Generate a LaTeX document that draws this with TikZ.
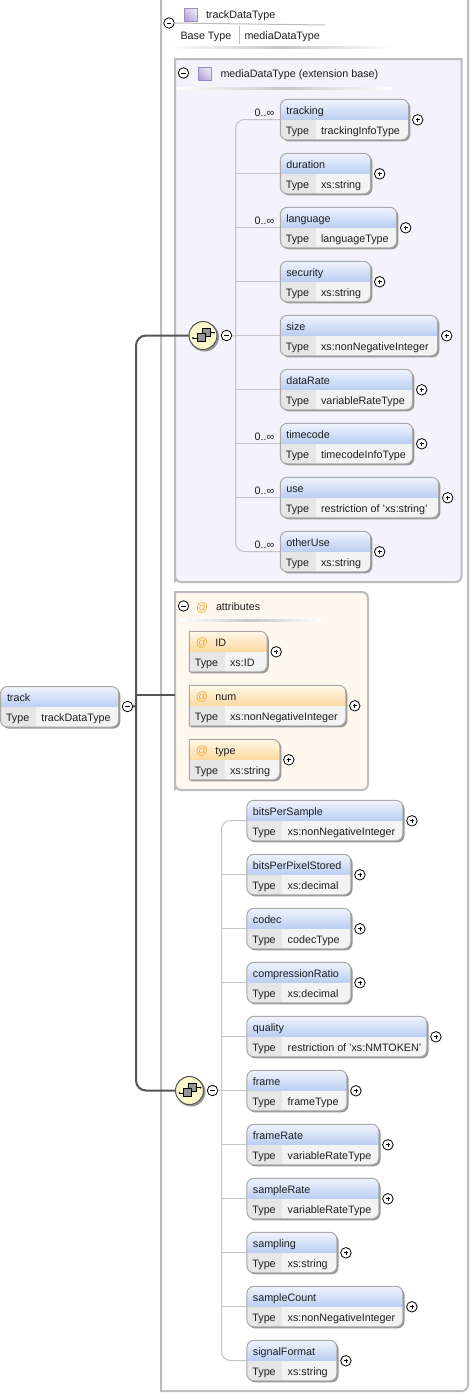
\documentclass[tikz,border=0pt]{standalone}
\usepackage{fontspec}
\setmainfont{Liberation Sans}
\definecolor{frameC}{HTML}{BDBDC0}
\definecolor{mediaBg}{HTML}{F4F2FA}
\definecolor{attrBg}{HTML}{FEF8EE}
\definecolor{hdrTop}{HTML}{F0F4FD}
\definecolor{hdrBot}{HTML}{B9CEF2}
\definecolor{attTop}{HTML}{FFF8E8}
\definecolor{attBot}{HTML}{FDD9A0}
\definecolor{cellA}{HTML}{E6E6E6}
\definecolor{cellB}{HTML}{F3F3F3}
\definecolor{boxEdge}{HTML}{A9A9A9}
\definecolor{shadowC}{HTML}{969696}
\definecolor{wireC}{HTML}{C4C4C4}
\definecolor{spineC}{HTML}{555555}
\definecolor{txtC}{HTML}{1E1E1E}
\definecolor{atC}{HTML}{EDA93A}
\definecolor{iconA}{HTML}{ECE8F6}
\definecolor{iconB}{HTML}{B4A6D8}
\definecolor{iconEdge}{HTML}{9A8CC0}
\definecolor{compFill}{HTML}{FBF8CC}
\tikzset{
  lbl/.style={inner sep=0pt,outer sep=0pt,text=txtC,anchor=base west,font=\fontsize{10.75}{12}\selectfont},
  atlbl/.style={lbl,text=atC,font=\fontsize{12}{12}\selectfont},
  cardinal/.style={lbl,anchor=base east},
  anchorbox/.style={inner sep=0pt,outer sep=0pt,draw=none,anchor=north west},
  toggle/.style={circle,draw=black,fill=white,line width=.8pt,minimum size=10.5pt,inner sep=0pt,outer sep=0pt},
  framebox/.style={draw=frameC,line width=2pt},
  wire/.style={draw=wireC,line width=1pt},
  spine/.style={draw=spineC,line width=2pt},
  bluehdr/.style={top color=hdrTop,bottom color=hdrBot},
  attrhdr/.style={top color=attTop,bottom color=attBot},
}
\newcommand{\boxp}[5]{(#1,{(#3+#4)/2}) [rounded corners=#5] -- (#1,#3) [rounded corners=7pt] -- (#2,#3) -- (#2,#4) [rounded corners=#5] -- (#1,#4) -- cycle}
% #1 name, #2 x0, #3 x1, #4 top, #5 title, #6 type, #7 header style, #8 left radius, #9 title extra
\newcommand{\elembox}[9]{%
  \node[anchorbox,minimum width={(#3-#2)*1pt},minimum height=40.5pt] (#1) at (#2,#4) {};
  \fill[shadowC] \boxp{#2+1.6}{#3+1.6}{#4+1.6}{#4+42.1}{#8};
  \begin{scope}
    \clip \boxp{#2}{#3}{#4}{#4+40.5}{#8};
    \shade[#7] (#2,#4) rectangle (#3,#4+20.5);
    \fill[cellA] (#2,#4+20.5) rectangle (#2+35.5,#4+41);
    \fill[cellB] (#2+35.5,#4+20.5) rectangle (#3,#4+41);
  \end{scope}
  \draw[boxEdge,line width=1pt] \boxp{#2}{#3}{#4}{#4+40.5}{#8};
  #9
  \node[lbl] (#1-k) at (#2+5.5,#4+34.8) {Type};
  \node[lbl] (#1-v) at (#2+40.8,#4+34.8) {#6};
}
\newcommand{\plustog}[3]{\node[toggle] (#1-p) at (#2+9,#3+20.5) {};
  \draw[black,line width=.7pt] (#2+7,#3+20.5) -- (#2+11,#3+20.5) (#2+9,#3+18.5) -- (#2+9,#3+22.5);}
\newcommand{\el}[5]{\elembox{#1}{#2}{#3}{#4}{#1}{#5}{bluehdr}{7pt}{\node[lbl] (#1-t) at (#2+6,#4+14.8) {#1};}\plustog{#1}{#3}{#4}}
\newcommand{\at}[5]{\elembox{#1}{#2}{#3}{#4}{#1}{#5}{attrhdr}{0pt}{\node[atlbl] (#1-a) at (#2+6.5,#4+15.5) {@};\node[lbl] (#1-t) at (#2+26,#4+14.8) {#1};}\plustog{#1}{#3}{#4}}
\newcommand{\minustog}[3]{\node[toggle] (#1) at (#2,#3) {};\draw[black,line width=.7pt] (#2-2.2,#3) -- (#2+2.2,#3);}
\newcommand{\purple}[3]{\node[anchorbox,minimum size=13pt] (#1) at (#2,#3) {};
  \shade[left color=iconA,right color=iconB,shading angle=-45,draw=iconEdge,line width=.9pt] (#1.north west) rectangle (#1.south east);}
\newcommand{\fade}[4]{\shade[left color=white,right color=white,middle color=black!22,draw=none] (#1,#3) rectangle (#2,#4);}
\newcommand{\compositor}[3]{%
  \fill[shadowC] (#2+1.5,#3+1.5) circle (14.5pt);
  \node[circle,draw=spineC,line width=1pt,fill=compFill,minimum size=28pt,inner sep=0pt,outer sep=0pt] (#1) at (#2,#3) {};
  \draw[black,line width=.8pt] (#2-10,#3+2.5) -- (#2-6,#3+2.5) (#2+7,#3-3) -- (#2+11,#3-3);
  \draw[black,fill=black!42,line width=.5pt] (#2-1,#3-7) rectangle (#2+7,#3+1);
  \draw[black,fill=black!42,line width=.5pt] (#2-6,#3-2) rectangle (#2+2,#3+6);
  \fill[black] (#2+11,#3-3) circle (1pt) (#2-10,#3+2.5) circle (1pt);
}
\begin{document}
\begin{tikzpicture}[x=1pt,y=-1pt]
\useasboundingbox (0,0) rectangle (471,1393);
\fill[white] (0,0) rectangle (471,1393);
% outer frame
\node[anchorbox,minimum width=307pt,minimum height=1391pt] (outerFrame) at (161,0) {};
\draw[framebox] (161,-2) -- (161,1391) [rounded corners=6pt] -- (468,1391) -- (468,-2);
% header of type
\minustog{typeMinus}{169}{23}
\draw[frameC,line width=1pt] (typeMinus.east) -- (325,25);
\purple{typeIcon}{184.5}{8.5}
\node[lbl] (typeName) at (206,18) {trackDataType};
\node[lbl] (baseKey) at (180.5,39) {Base Type};
\draw[frameC,line width=1pt] (239.5,26) -- (239.5,44);
\node[lbl] (baseVal) at (244.5,39) {mediaDataType};
\fade{166}{395}{46.5}{48.5}
% media frame
\node[anchorbox,minimum width=286.5pt,minimum height=523pt] (mediaFrame) at (175,59) {};
\fill[mediaBg] (175,59) -- (461.5,59) [rounded corners=6pt] -- (461.5,582) -- (175,582) [sharp corners] -- cycle;
\draw[framebox] (175,582) -- (175,59) -- (461.5,59) [rounded corners=6pt] -- (461.5,582) -- (175,582) [sharp corners] -- (175,581);
\minustog{mediaMinus}{183.5}{73}
\purple{mediaIcon}{198.5}{67}
\node[lbl] (mediaName) at (220.5,77) {mediaDataType (extension base)};
\fade{177}{392}{87}{89}
% attribute frame
\node[anchorbox,minimum width=193pt,minimum height=198pt] (attrFrame) at (175,592) {};
\fill[attrBg] (175,592) [rounded corners=6pt] -- (368,592) -- (368,790) [sharp corners] -- (175,790) -- cycle;
\draw[framebox] (175,790) -- (175,592) [rounded corners=6pt] -- (368,592) -- (368,790) -- (175,790) [sharp corners] -- (175,789);
\minustog{attrMinus}{183.5}{606}
\node[atlbl] (attrAt) at (196,611) {@};
\node[lbl] (attrName) at (216,610) {attributes};
\fade{180}{322}{619.5}{621.5}
% thick connectors
\compositor{compA}{203}{335.5}
\compositor{compB}{189.5}{1090.5}
\coordinate (mainSpine) at (136,706);
\coordinate (attrJoin) at (136,694.5);
\draw[spine,rounded corners=10pt] (compA.west) -| (mainSpine) |- (compB.west);
\draw[spine] (attrJoin) -- (attrFrame.west |- attrJoin);
\minustog{trackMinus}{127.5}{706.5}
\draw[spine] (trackMinus.east) -- (mainSpine);
\coordinate (spineA) at (235.5,336);
\minustog{compAminus}{226.5}{335.5}
\coordinate (spineB) at (221.5,1090);
\minustog{compBminus}{212.5}{1090.5}
% group 1
\el{tracking}{280.3}{408.7}{99.3}{trackingInfoType}
\el{duration}{280.3}{370.7}{153.3}{xs:string}
\el{language}{280.3}{396.7}{207.3}{languageType}
\el{security}{280.3}{370.7}{261.3}{xs:string}
\el{size}{280.3}{437.7}{315.3}{xs:nonNegativeInteger}
\el{dataRate}{280.3}{412.7}{369.3}{variableRateType}
\el{timecode}{280.3}{412.7}{423.3}{timecodeInfoType}
\el{use}{280.3}{438.7}{477.3}{restriction of 'xs:string'}
\el{otherUse}{280.3}{370.7}{531.3}{xs:string}
\draw[wire,rounded corners=9pt] (tracking.west) -| (spineA) |- (otherUse.west);
\foreach \n in {duration,language,security,size,dataRate,timecode,use}
  \draw[wire] (spineA |- \n.west) -- (\n.west);
\draw[wire] (compAminus.east) -- (spineA);
\foreach \n in {tracking,language,timecode,use,otherUse}
  \node[cardinal] (\n-card) at ([xshift=-6pt,yshift=3.2pt]\n.west) {0..∞};
% attributes
\at{ID}{189.3}{267.2}{631.3}{xs:ID}
\at{num}{189.3}{345.8}{685.3}{xs:nonNegativeInteger}
\at{type}{189.3}{279.8}{739.3}{xs:string}
% group 2
\el{bitsPerSample}{246.9}{402.9}{800.3}{xs:nonNegativeInteger}
\el{bitsPerPixelStored}{246.9}{350.9}{854.3}{xs:decimal}
\el{codec}{246.9}{350.9}{908.3}{codecType}
\el{compressionRatio}{246.9}{350.9}{962.3}{xs:decimal}
\el{quality}{246.9}{426.9}{1016.3}{restriction of 'xs:NMTOKEN'}
\el{frame}{246.9}{346.9}{1070.3}{frameType}
\el{frameRate}{246.9}{378.9}{1124.3}{variableRateType}
\el{sampleRate}{246.9}{378.9}{1178.3}{variableRateType}
\el{sampling}{246.9}{336.9}{1232.3}{xs:string}
\el{sampleCount}{246.9}{402.9}{1286.3}{xs:nonNegativeInteger}
\el{signalFormat}{246.9}{336.9}{1340.3}{xs:string}
\draw[wire,rounded corners=9pt] (bitsPerSample.west) -| (spineB) |- (signalFormat.west);
\foreach \n in {bitsPerPixelStored,codec,compressionRatio,quality,frame,frameRate,sampleRate,sampling,sampleCount}
  \draw[wire] (spineB |- \n.west) -- (\n.west);
\draw[wire] (compBminus.east) -- (spineB);
% track
\elembox{track}{0.5}{118.7}{686.5}{track}{trackDataType}{bluehdr}{7pt}{\node[lbl] (track-t) at (7,701) {track};}
\end{tikzpicture}
\end{document}
